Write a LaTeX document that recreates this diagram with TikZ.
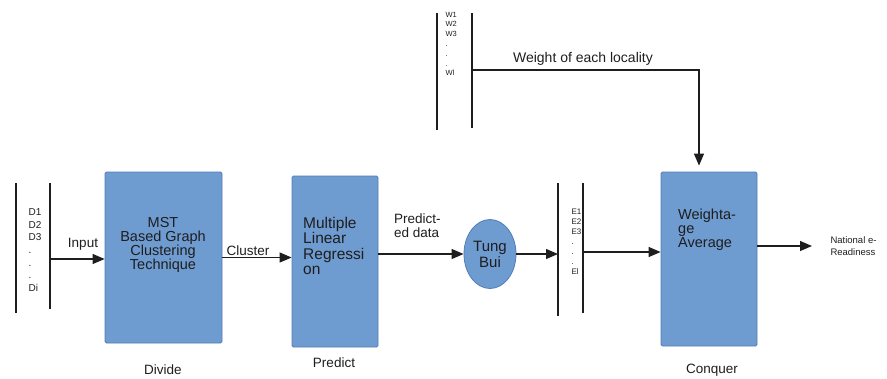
\documentclass[tikz,border=0pt]{standalone}
\usepackage{fontspec}
\setmainfont{Liberation Sans}
\usetikzlibrary{arrows.meta,positioning,shapes.geometric}
\definecolor{boxblue}{RGB}{110,155,208}
\definecolor{boxedge}{RGB}{82,126,182}
\definecolor{ink}{RGB}{30,30,30}
\newcommand{\bigtxt}{\fontsize{13.5}{14}\selectfont}

\begin{document}
\begin{tikzpicture}
[align=center,x=1pt,y=-1pt,>={Triangle[length=12pt,width=10pt]},text=ink]
\tikzstyle{block}=[fill=boxblue,draw=boxedge,rounded corners=1.5pt,line width=0.8pt,inner sep=0pt]
\tikzstyle{rail}=[draw=ink,line width=1.5pt]
\tikzstyle{flow}=[->,draw=ink,line width=1.1pt]
\tikzstyle{lbl}=[font=\bigtxt,inner sep=1pt]

\useasboundingbox (0,0) rectangle (887,378);

% the three blocks and the ellipse
\draw node [block,minimum width=117pt,minimum height=171pt] (mst) at (163.5,257.5) {};
\draw node [block,minimum width=86pt,minimum height=171pt] (mlr) at (335,261.5) {};
\draw node [block,minimum width=96pt,minimum height=174pt] (wa) at (709,259) {};
\draw node [block,ellipse,minimum width=52pt,minimum height=69pt,font=\fontsize{15}{16}\selectfont] (tb) at (490,254) {Tung\\Bui};

\draw node [lbl,font=\fontsize{14.5}{14}\selectfont] (mstT) at (163,245) {MST\\Based Graph\\Clustering\\Technique};
\draw node [lbl,anchor=west,align=left,font=\fontsize{15.5}{15.5}\selectfont] (mlrT) at (302,246) {Multiple\\Linear\\Regressi\\on};
\draw node [lbl,anchor=west,align=left,font=\fontsize{14.5}{14}\selectfont] (waT) at (677,230) {Weighta-\\ge\\Average};

% lists between rails
\draw [rail] (16,183) -- (16,313);
\draw [rail] (50,183) -- (50,309);
\draw [rail] (558,183) -- (558,316);
\draw [rail] (583,183) -- (583,313);
\draw [rail] (437,13) -- (437,130);
\draw [rail] (472,13) -- (472,128);
\coordinate (dR) at (50,259);
\coordinate (eL) at (558,254);
\coordinate (eR) at (583,252);
\coordinate (wR) at (472,70);

\draw node [anchor=west,align=left,font=\fontsize{10}{12.7}\selectfont] (dlist) at (25,250) {D1\\D2\\D3\\.\\.\\.\\Di};
\draw node [anchor=west,align=left,font=\fontsize{8}{10}\selectfont] (elist) at (568,242) {E1\\E2\\E3\\.\\.\\.\\El};
\draw node [anchor=west,align=left,font=\fontsize{7.5}{9.8}\selectfont] (wlist) at (442,44) {W1\\W2\\W3\\.\\.\\.\\Wl};

% labels
\draw node [lbl] (inputL) at (83,244) {Input};
\draw node [lbl] (clusterL) at (248,251) {Cluster};
\draw node [lbl,anchor=west,align=left] (predL) at (393,226) {Predict-\\ed data};
\draw node [lbl,font=\fontsize{14}{14}\selectfont] (weightL) at (583,59) {Weight of each locality};
\draw node [lbl] (divideL) at (163,370) {Divide};
\draw node [lbl] (predictL) at (334,363) {Predict};
\draw node [lbl] (conquerL) at (712,370) {Conquer};
\draw node [anchor=west,align=left,font=\fontsize{9.5}{12}\selectfont] (out) at (827,246) {National e-\\Readiness};

% flow
\draw [flow] (dR) -- (dR -| mst.west);
\draw [flow] (mst) -- (mst -| mlr.west);
\draw [flow] (mlr.east |- tb) -- (tb);
\draw [flow] (tb) -- (eL);
\draw [flow] (eR) -- (eR -| wa.west);
\draw [flow] (wa.east |- out) -- ([xshift=-15pt]out.west);
\draw [flow,shorten >=6pt] (wR) -| ([xshift=-10pt]wa.north);
\end{tikzpicture}
\end{document}
